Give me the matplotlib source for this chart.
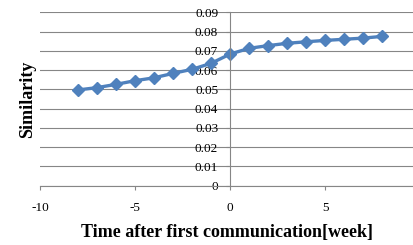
import matplotlib.pyplot as plt

weeks = [-8, -7, -6, -5, -4, -3, -2, -1, 0, 1, 2, 3, 4, 5, 6, 7, 8]
similarity = [0.0497, 0.0509, 0.0526, 0.0545, 0.0560, 0.0583, 0.0604, 0.0635,
              0.0683, 0.0713, 0.0727, 0.0739, 0.0747, 0.0754, 0.0760, 0.0766, 0.0775]

plt.rcParams['font.family'] = 'Liberation Serif'

fig = plt.figure(figsize=(4.14, 2.45), dpi=100)
ax = fig.add_axes([40/414, 59.3/245, 374/414, 173.4/245])

ax.plot(weeks, similarity, color='#4F81BD', lw=2.4, marker='D', markersize=6)

ax.set_xlim(-10, 9.68)
ax.set_ylim(0, 0.09)
ax.set_xticks([-10, -5, 0, 5])
ax.set_xticklabels(['-10', '-5', '0', '5'])
ax.set_yticks([i / 100 for i in range(10)])
ax.set_yticklabels(['0'] + ['0.0%d' % i for i in range(1, 10)])

ax.spines['left'].set_position(('data', 0))
ax.spines['top'].set_visible(False)
ax.spines['right'].set_visible(False)
ax.spines['left'].set_color('#868686')
ax.spines['bottom'].set_color('#868686')
ax.grid(axis='y', color='#868686', lw=0.8)
ax.set_axisbelow(True)
ax.tick_params(axis='both', labelsize=9.5, color='#868686', length=3, width=0.8)
ax.tick_params(axis='y', pad=5.5)
ax.tick_params(axis='x', pad=8.5)

fig.text(28/414, 1 - 99/245, 'Similarity', rotation=90, fontsize=13, fontweight='bold',
         ha='center', va='center')
fig.text(227/414, 1 - 232/245, 'Time after first communication[week]', fontsize=13,
         fontweight='bold', ha='center', va='center')

fig.savefig('out.png', dpi=100)
